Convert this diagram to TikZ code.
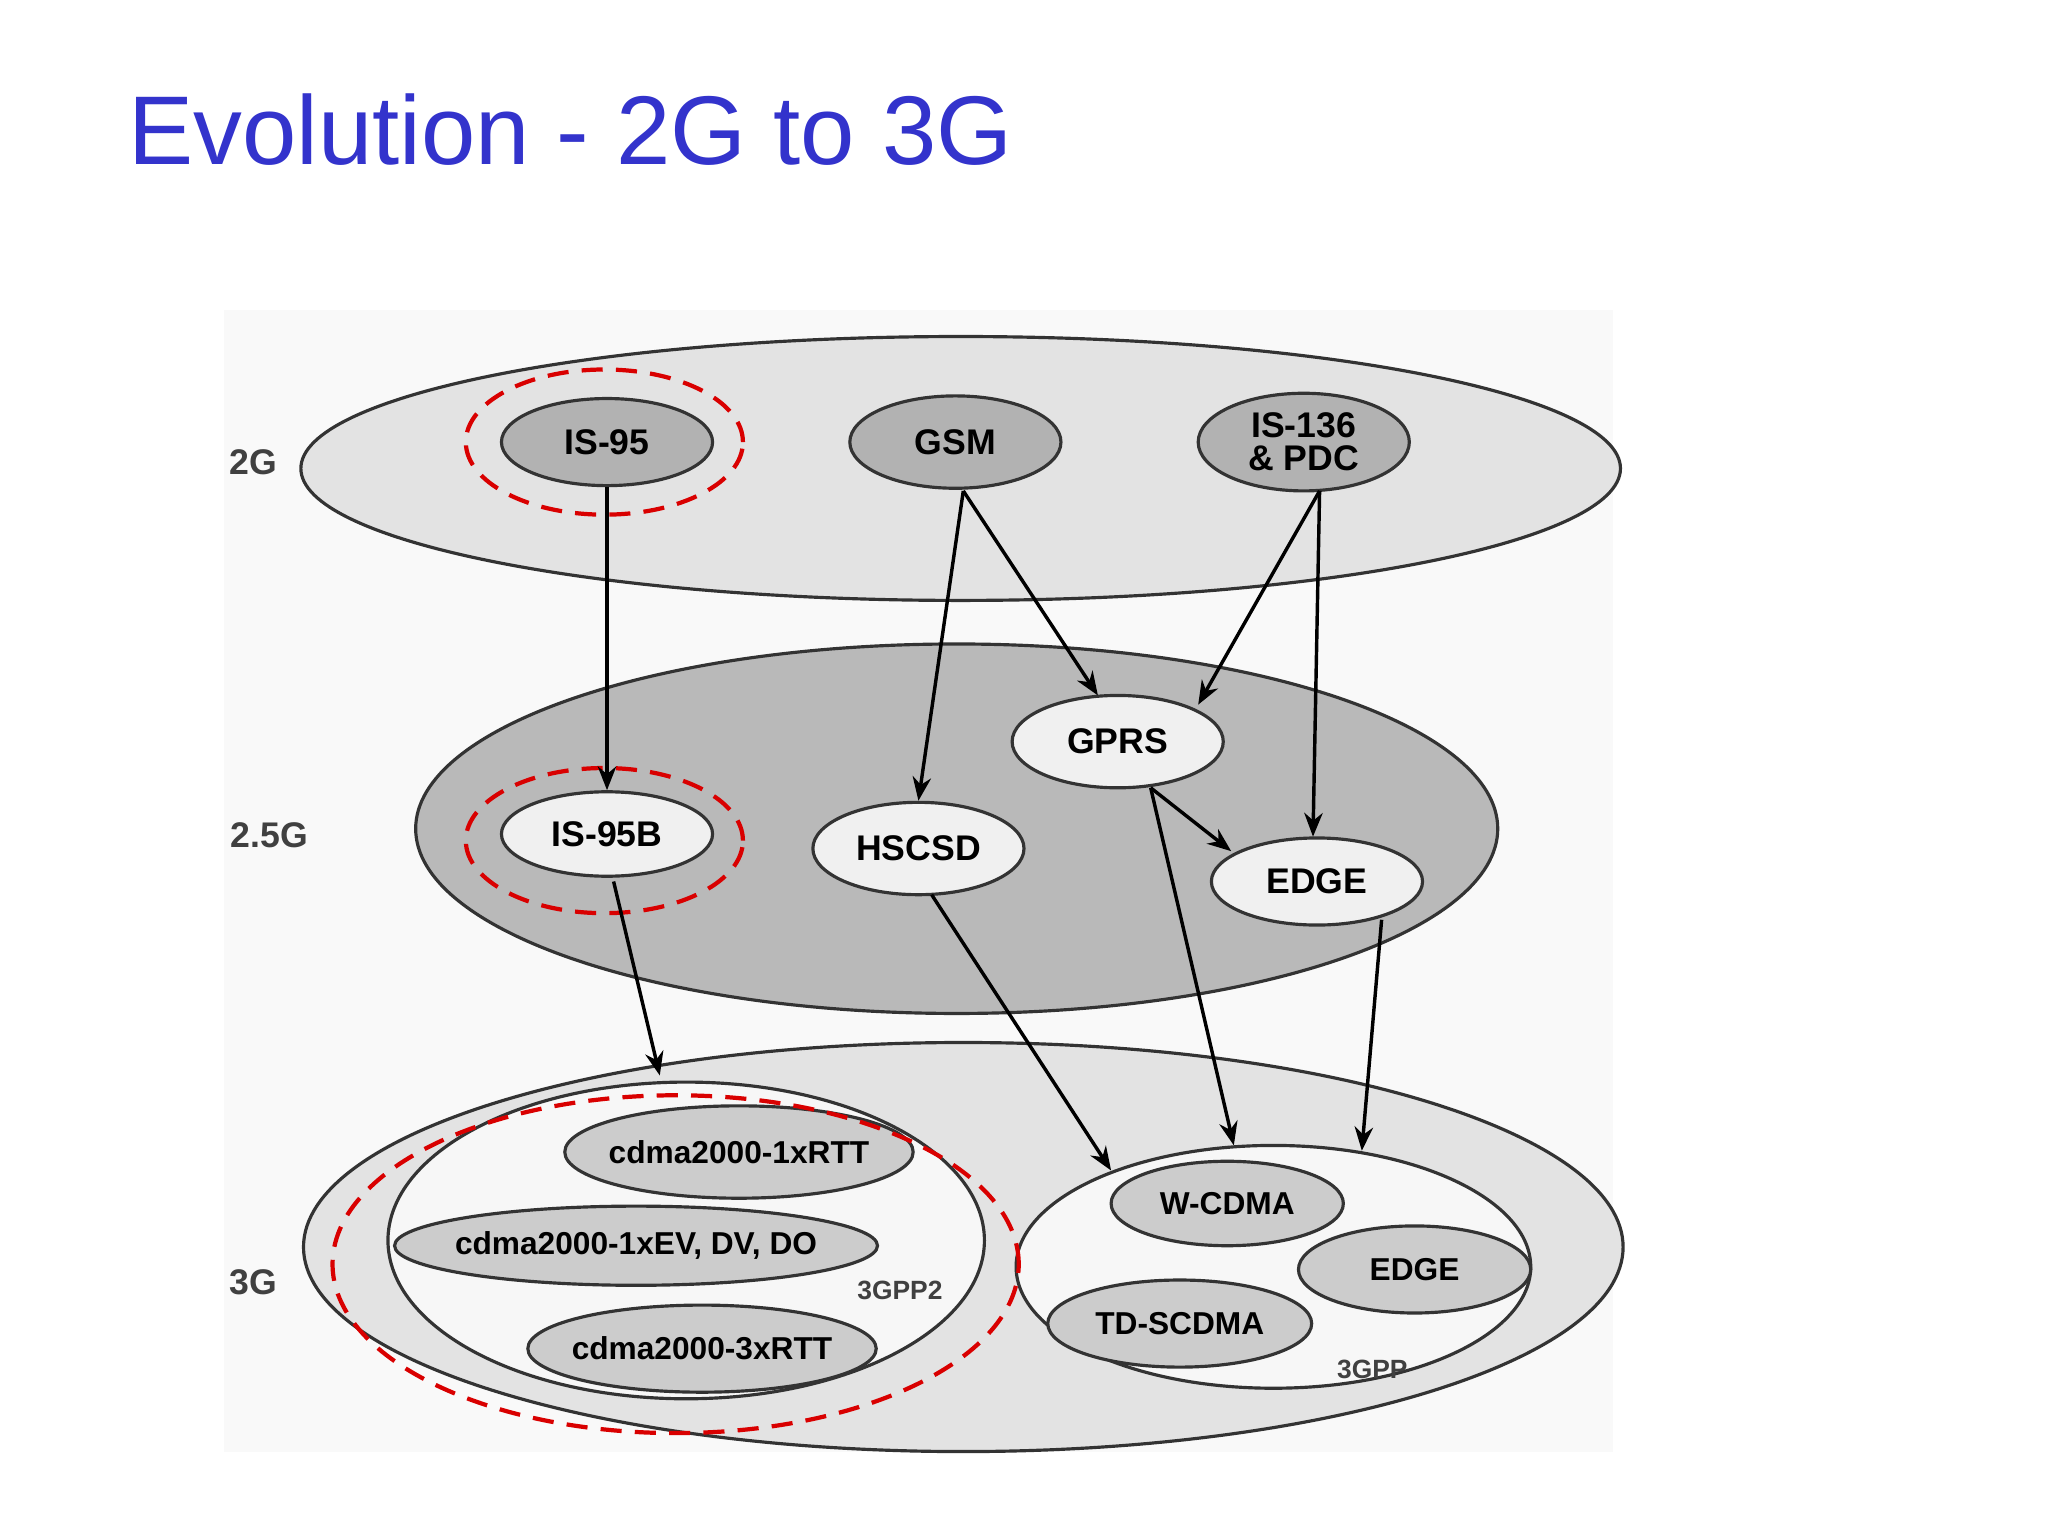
\documentclass[tikz,border=0pt]{standalone}
\usepackage{fontspec}
\setmainfont{Liberation Sans}
\usetikzlibrary{shapes.geometric,arrows.meta}
\begin{document}
\begin{tikzpicture}[x=0.5pt,y=-0.5pt,
  el/.style={ellipse,draw=black!80,line width=1.2pt,inner sep=0pt,font=\fontsize{13.5}{13.5}\bfseries\selectfont},
  dk/.style={el,fill=gray!60},
  lt/.style={el,fill=gray!12},
  md/.style={el,fill=gray!40,inner xsep=-6pt,font=\fontsize{12}{12}\bfseries\selectfont},
  red/.style={ellipse,draw=red!85!black,dashed,dash pattern=on 8pt off 5pt,line width=1.6pt,inner sep=0pt},
  arr/.style={-{Stealth[length=9pt,width=7pt]},line width=1.3pt},
  lbl/.style={font=\fontsize{13.5}{13.5}\bfseries\selectfont,text=black!75}]
\useasboundingbox (0,0) rectangle (1552,1164);
\fill[gray!5] (170,235) rectangle (1222,1100);
\node[font=\fontsize{37}{37}\selectfont,text={rgb,255:red,51;green,51;blue,204},anchor=west] (title) at (90,98) {Evolution - 2G to 3G};
% layers
\node[el,fill=gray!22,minimum width=500pt,minimum height=100pt] (L2) at (728,355) {};
\node[el,fill=gray!55,minimum width=410pt,minimum height=140pt] (L25) at (725,628) {};
\node[el,fill=gray!22,minimum width=500pt,minimum height=155pt] (L3) at (730,945) {};
\node[el,fill=gray!6,minimum width=226pt,minimum height=120pt] (P2) at (520,940) {};
\node[el,fill=gray!6,minimum width=195pt,minimum height=92pt] (P1) at (965,960) {};
\node[lbl] (t2) at (192,350) {2G};
\node[lbl] (t25) at (204,633) {2.5G};
\node[lbl] (t3) at (192,972) {3G};
% nodes
\node[dk,minimum width=80pt,minimum height=33pt] (is95) at (460,335) {IS-95};
\node[dk,minimum width=80pt,minimum height=35pt] (gsm) at (724,335) {GSM};
\node[dk,minimum width=80pt,minimum height=37pt,align=center,font=\fontsize{13.5}{12.5}\bfseries\selectfont] (is136) at (988,335) {IS-136\\\& PDC};
\node[lt,minimum width=80pt,minimum height=35pt] (gprs) at (847,562) {GPRS};
\node[lt,minimum width=80pt,minimum height=32pt] (is95b) at (460,632) {IS-95B};
\node[lt,minimum width=80pt,minimum height=35pt] (hscsd) at (696,643) {HSCSD};
\node[lt,minimum width=80pt,minimum height=33pt] (edge) at (998,668) {EDGE};
\node[md,minimum width=132pt,minimum height=35pt] (rtt1) at (560,873) {cdma2000-1xRTT};
\node[md,minimum width=183pt,minimum height=30pt] (ev) at (482,944) {cdma2000-1xEV, DV, DO};
\node[md,minimum width=132pt,minimum height=33pt] (rtt3) at (532,1022) {cdma2000-3xRTT};
\node[lbl,font=\fontsize{10}{10}\bfseries\selectfont] (g2) at (682,978) {3GPP2};
\node[md,minimum width=88pt,minimum height=32pt] (wcdma) at (930,912) {W-CDMA};
\node[md,minimum width=88pt,minimum height=33pt] (edge3) at (1072,962) {EDGE};
\node[md,minimum width=100pt,minimum height=33pt] (td) at (894,1003) {TD-SCDMA};
\node[lbl,font=\fontsize{10}{10}\bfseries\selectfont] (g1) at (1040,1038) {3GPP};
% red dashed
\node[red,minimum width=105pt,minimum height=55pt] (r1) at (458,335) {};
\node[red,minimum width=105pt,minimum height=55pt] (r2) at (458,637) {};
\node[red,minimum width=260pt,minimum height=128pt] (r3) at (512,958) {};
% arrows
\coordinate (a1) at (500,815);
\coordinate (a2) at (842,887);
\coordinate (a3) at (935,868);
\coordinate (a4) at (1032,872);
\draw[arr] (is95.south) -- (is95b.north);
\draw[arr] (730,372) -- (hscsd.north);
\draw[arr] (730,372) -- (832,527);
\draw[arr] (1000,372) -- (908,534);
\draw[arr] (1000,372) -- (995,634);
\draw[arr] (872,597) -- (933,645);
\draw[arr] (872,597) -- (a3);
\draw[arr] (706,678) -- (a2);
\draw[arr] (465,668) -- (a1);
\draw[arr] (1047,697) -- (a4);
\end{tikzpicture}
\end{document}
